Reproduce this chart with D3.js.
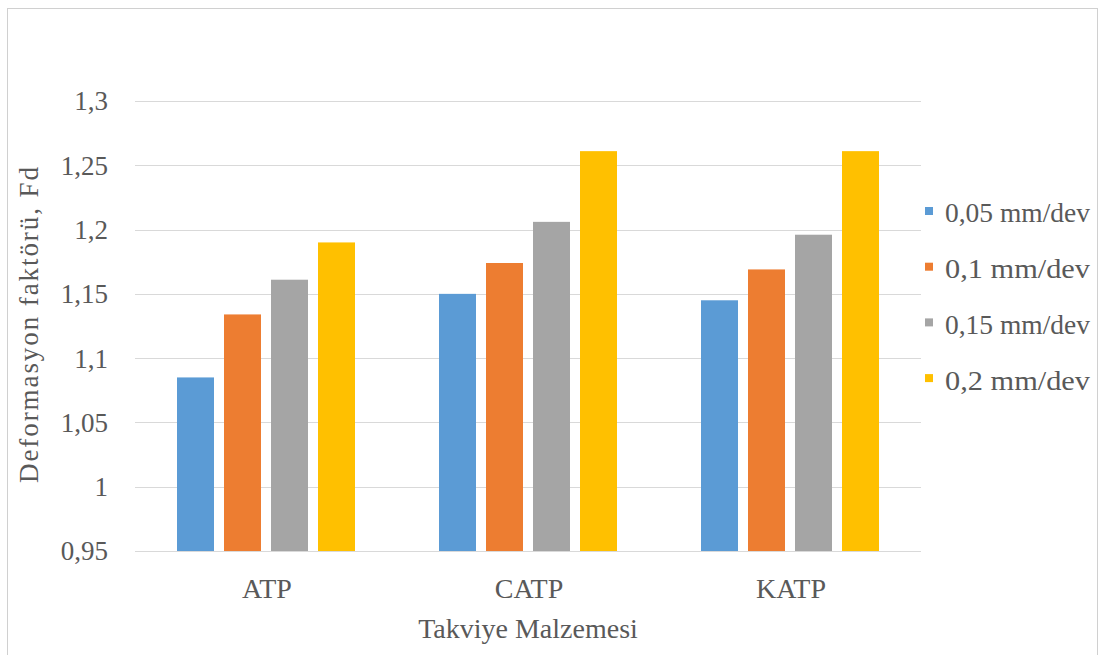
<!DOCTYPE html>
<html><head><meta charset="utf-8">
<script src="https://cdn.jsdelivr.net/npm/d3@7"></script>
<style>body{margin:0;background:#fff}svg{display:block}svg text{font-family:"Liberation Serif",serif}</style>
</head><body>
<script>
const categories = ["ATP", "CATP", "KATP"];
const seriesNames = ["0,05 mm/dev", "0,1 mm/dev", "0,15 mm/dev", "0,2 mm/dev"];
const s005 = [1.085, 1.150, 1.145];
const s010 = [1.134, 1.174, 1.169];
const s015 = [1.161, 1.206, 1.196];
const s020 = [1.190, 1.261, 1.261];
const yTicks = [0.95, 1, 1.05, 1.1, 1.15, 1.2, 1.25, 1.3];
const colors = ["#5B9BD5", "#ED7D31", "#A5A5A5", "#FFC000"];
const yTitle = "Deformasyon faktörü, Fd";
const xTitle = "Takviye Malzemesi";

const seriesValues = [s005, s010, s015, s020];
const W = 1103, H = 655;
const svg = d3.select("body").append("svg").attr("width", W).attr("height", H);
const txt = "#595959";

svg.append("rect").attr("x", 7.5).attr("y", 8.5).attr("width", 1090).attr("height", 660)
  .attr("fill", "#fff").attr("stroke", "#D0D0D0").attr("stroke-width", 1);

const plotL = 135, plotR = 921;
const y = d3.scaleLinear().domain([0.95, 1.3]).range([551, 101]);
const x0 = d3.scaleBand().domain(categories).range([plotL, plotR]).padding(0);
const bw = x0.bandwidth();
const groupW = 178;
const x1 = d3.scaleBand().domain(seriesNames).range([(bw - groupW) / 2, (bw + groupW) / 2]).paddingInner(10 / 47);

// gridlines
svg.append("g").selectAll("line").data(yTicks).join("line")
  .attr("x1", plotL).attr("x2", plotR)
  .attr("y1", d => Math.round(y(d)) + 0.5).attr("y2", d => Math.round(y(d)) + 0.5)
  .attr("stroke", "#D9D9D9").attr("stroke-width", 1);

// y tick labels
svg.append("g").selectAll("text").data(yTicks).join("text")
  .attr("x", 108).attr("y", d => y(d)).attr("dy", "0.35em")
  .attr("text-anchor", "end").attr("font-size", 27).attr("fill", txt)
  .text(d => String(d).replace(".", ","));

// bars
const groups = svg.append("g").selectAll("g").data(categories).join("g")
  .attr("transform", c => `translate(${x0(c)},0)`);
groups.selectAll("rect").data((c, ci) => seriesNames.map((s, si) => ({s, si, v: seriesValues[si][ci]})))
  .join("rect")
  .attr("x", d => x1(d.s)).attr("width", x1.bandwidth())
  .attr("y", d => y(d.v)).attr("height", d => y(0.95) - y(d.v))
  .attr("fill", d => colors[d.si]);

// x category labels
svg.append("g").selectAll("text").data(categories).join("text")
  .attr("x", c => x0(c) + bw / 2 + 1).attr("y", 598)
  .attr("text-anchor", "middle").attr("font-size", 28).attr("fill", txt)
  .text(c => c);

// axis titles
svg.append("text").attr("x", 528).attr("y", 638).attr("text-anchor", "middle")
  .attr("font-size", 28).attr("fill", txt).text(xTitle);
svg.append("text").attr("transform", "translate(38,325) rotate(-90)")
  .attr("text-anchor", "middle").attr("font-size", 27).attr("fill", txt)
  .attr("textLength", 316).attr("lengthAdjust", "spacing").text(yTitle);

// legend
const leg = svg.append("g").selectAll("g").data(seriesNames).join("g")
  .attr("transform", (d, i) => `translate(925,${213 + i * 55.7})`);
leg.append("rect").attr("x", 0).attr("y", -6).attr("width", 8).attr("height", 8)
  .attr("fill", (d, i) => colors[i]);
leg.append("text").attr("x", 20).attr("y", 0).attr("dy", "0.35em")
  .attr("font-size", 27).attr("fill", txt)
  .attr("textLength", 145).attr("lengthAdjust", "spacingAndGlyphs").text(d => d);
</script>
</body></html>
